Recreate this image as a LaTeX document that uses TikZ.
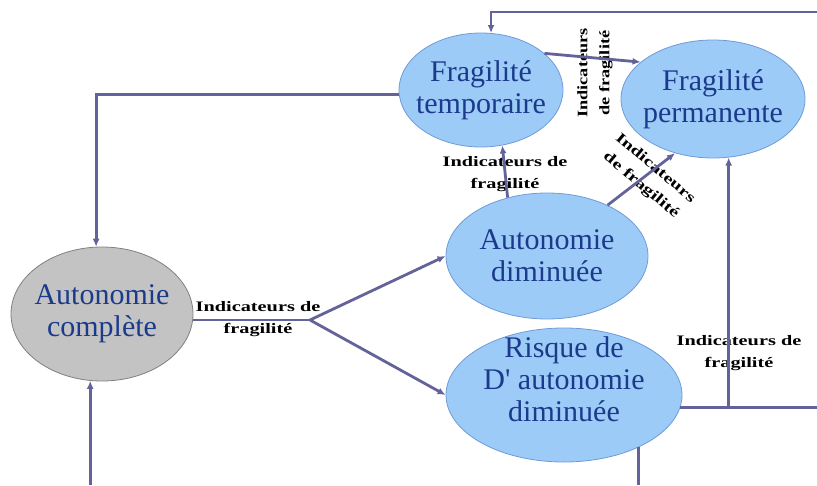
\documentclass[tikz,border=0pt]{standalone}
\usepackage{fontspec}
\setmainfont{Liberation Serif}
\usetikzlibrary{positioning, shapes.geometric, arrows.meta}
\definecolor{linkc}{HTML}{63639A}
\definecolor{etatc}{HTML}{9DCBF8}
\definecolor{bordc}{HTML}{6F9BD6}
\definecolor{textc}{HTML}{1B3A8C}
\definecolor{grisc}{HTML}{C3C3C3}

\begin{document}
\begin{tikzpicture}[x = 1pt, y = -1pt,
  etat/.style = {ellipse, draw = bordc, fill = etatc, line width = 0.8pt, inner sep = -30pt,
                 align = center, text = textc, font = \fontsize{30}{32}\selectfont},
  indic/.style = {align = center, font = \fontsize{14.5}{22}\selectfont\bfseries, xscale = 1.4, inner sep = 0pt},
  link/.style = {draw = linkc, line width = 2.8pt},
  > = {Latex[length = 8pt, width = 7pt]}]
\useasboundingbox (0,0) rectangle (817,485);

\node[etat, fill = grisc, draw = gray, minimum width = 182pt, minimum height = 134pt] (complete) at (102,314) {Autonomie\\complète};
\node[etat, minimum width = 164pt, minimum height = 114pt] (tempo) at (481,90) {Fragilité\\temporaire};
\node[etat, minimum width = 184pt, minimum height = 118pt] (perm) at (713,99) {Fragilité\\permanente};
\node[etat, minimum width = 202pt, minimum height = 126pt] (dimin) at (547,256) {Autonomie\\diminuée};
\node[etat, minimum width = 236pt, minimum height = 134pt] (risque) at (564,395) {Risque de\\D\textquotesingle{} autonomie\\diminuée\\\mbox{}};

\node[indic] (indic1) at (258,319) {Indicateurs de\\fragilité};
\node[indic] (indic2) at (505,174) {Indicateurs de\\fragilité};
\node[indic] (indic3) at (739,353) {Indicateurs de\\fragilité};
\node[rotate = 90, indic, xscale = 0.9] (indic4) at (595,73) {Indicateurs\\de fragilité};
\node[rotate = -40, indic] (indic5) at (648,177) {Indicateurs\\de fragilité};

\coordinate (haut) at (817,12);
\coordinate (bas) at (0,485);
\coordinate (droite) at (817,0);
\coordinate (fourche) at (310,320);

\draw[link, ->] (haut) -| (tempo.80);
\draw[link, ->] (tempo.183) -| (complete.95);
\draw[link, ->] (complete.260 |- bas) -- (complete.260);
\draw[link] (fourche -| complete.east) -- (fourche);
\draw[link, ->] (fourche) -- (dimin.west);
\draw[link, ->] (fourche) -- (risque.west);
\draw[link, ->] (dimin.124) -- (tempo.-69);
\draw[link, ->] (dimin.40) -- (perm.-125);
\draw[link, ->] (tempo.30) -- (perm.153);
\draw[link] (risque.-35) -- (risque.-35 |- bas);
\draw[link] (risque.-6) -- (risque.-6 -| droite);
\draw[link, ->] (perm.-75 |- risque.-6) -- (perm.-75);
\end{tikzpicture}
\end{document}
